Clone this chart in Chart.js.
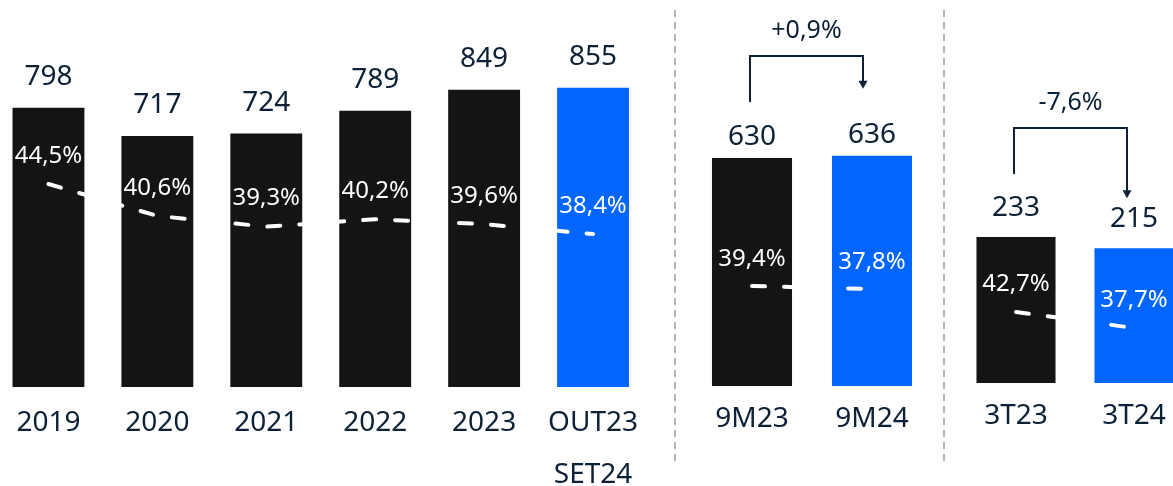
<!DOCTYPE html>
<html lang="pt">
<head>
<meta charset="utf-8">
<script src="https://cdn.jsdelivr.net/npm/chart.js@4/dist/chart.umd.min.js"></script>
<style>
  html, body { margin: 0; padding: 0; background: #fff; overflow: hidden; width: 1173px; height: 486px; }
  .bloco { position: absolute; top: 0; height: 486px; }
</style>
</head>
<body>
<div class="bloco" style="left:-6px;width:654px"><canvas id="graficoAnos"></canvas></div>
<div class="bloco" style="left:662px;width:270px"><canvas id="graficoNoveMeses"></canvas></div>
<div class="bloco" style="left:932px;width:261px"><canvas id="graficoTrimestre"></canvas></div>
<script>
// dados
const anosLabels = ['2019', '2020', '2021', '2022', '2023', ['OUT23', 'SET24']];
const anosValores = [798, 717, 724, 789, 849, 855];
const anosMargem = [44.5, 40.6, 39.3, 40.2, 39.6, 38.4];

const noveMesesLabels = ['9M23', '9M24'];
const noveMesesValores = [630, 636];
const noveMesesMargem = [39.4, 37.8];

const trimestreLabels = ['3T23', '3T24'];
const trimestreValores = [233, 215];
const trimestreMargem = [42.7, 37.7];

const variacoes = ['+0,9%', '-7,6%'];

const PRETO = '#141414';
const AZUL = '#0066ff';
const NAVY = '#0c2036';
const FONTE = "'Noto Sans', sans-serif";

// valores acima das barras e margens acima da linha tracejada
const rotulos = {
    id: 'rotulos',
    afterDatasetsDraw(chart, args, opts) {
        const ctx = chart.ctx;
        const barras = chart.getDatasetMeta(0).data;
        const pontos = chart.getDatasetMeta(1).data;
        ctx.save();
        ctx.textAlign = 'center';
        ctx.textBaseline = 'middle';
        ctx.font = '28px ' + FONTE;
        ctx.fillStyle = NAVY;
        barras.forEach((b, i) => {
            ctx.fillText(chart.data.datasets[0].data[i], b.x, b.y - opts.acimaBarra);
        });
        ctx.font = '24px ' + FONTE;
        ctx.fillStyle = '#fff';
        pontos.forEach((p, i) => {
            const v = chart.data.datasets[1].data[i];
            ctx.fillText(v.toFixed(1).replace('.', ',') + '%', p.x, p.y - opts.acimaLinha);
        });
        ctx.restore();
    }
};

// separador tracejado e seta de variação
const anotacoes = {
    id: 'anotacoes',
    afterDraw(chart, args, opts) {
        const ctx = chart.ctx;
        const area = chart.chartArea;
        ctx.save();
        if (opts.separador) {
            const x = area.left - opts.separador;
            ctx.strokeStyle = '#b4b4b4';
            ctx.lineWidth = 2;
            ctx.setLineDash([7, 5]);
            ctx.beginPath();
            ctx.moveTo(x, 10);
            ctx.lineTo(x, 466);
            ctx.stroke();
        }
        if (opts.seta) {
            const s = opts.seta;
            const b = chart.getDatasetMeta(0).data;
            const x0 = b[0].x - 2;
            const x1 = b[1].x - s.recuo;
            const y0 = b[0].y - s.inicio;
            const yt = y0 - s.altura;
            const y1 = b[1].y - s.ponta;
            ctx.setLineDash([]);
            ctx.strokeStyle = NAVY;
            ctx.fillStyle = NAVY;
            ctx.lineWidth = 2;
            ctx.beginPath();
            ctx.moveTo(x0, y0);
            ctx.lineTo(x0, yt);
            ctx.lineTo(x1, yt);
            ctx.lineTo(x1, y1 - 6);
            ctx.stroke();
            ctx.beginPath();
            ctx.moveTo(x1 - 4.5, y1 - 8);
            ctx.lineTo(x1 + 4.5, y1 - 8);
            ctx.lineTo(x1, y1);
            ctx.closePath();
            ctx.fill();
            ctx.font = '25px ' + FONTE;
            ctx.textAlign = 'center';
            ctx.textBaseline = 'middle';
            ctx.fillText(s.texto, (x0 + x1) / 2, yt - 25);
        }
        ctx.restore();
    }
};

function criarGrafico(id, labels, valores, margem, cores, ajuste) {
    new Chart(document.getElementById(id), {
        type: 'bar',
        data: {
            labels: labels,
            datasets: [{
                type: 'bar',
                data: valores,
                backgroundColor: cores,
                barPercentage: ajuste.barra,
                categoryPercentage: 1,
                yAxisID: 'y',
                order: 2
            }, {
                type: 'line',
                data: margem,
                borderColor: '#ffffff',
                borderWidth: 4,
                borderDash: [13, 19],
                borderCapStyle: 'round',
                pointRadius: 0,
                tension: 0,
                yAxisID: 'y2',
                order: 1
            }]
        },
        options: {
            responsive: true,
            maintainAspectRatio: false,
            animation: false,
            layout: { padding: { left: ajuste.esquerda, right: 0, top: 0, bottom: 0 } },
            plugins: {
                legend: { display: false },
                tooltip: { enabled: false },
                rotulos: { acimaBarra: ajuste.acimaBarra, acimaLinha: ajuste.acimaLinha },
                anotacoes: { separador: ajuste.separador, seta: ajuste.seta }
            },
            scales: {
                x: {
                    grid: { display: false, drawTicks: false },
                    border: { display: false },
                    ticks: {
                        color: NAVY,
                        font: { family: FONTE, size: 28, lineHeight: ajuste.linha },
                        padding: ajuste.pad,
                        maxRotation: 0,
                        autoSkip: false
                    },
                    afterFit: s => { s.height = 486 - ajuste.base; }
                },
                y: { display: false, min: 0, max: ajuste.maxBarra },
                y2: { display: false, min: ajuste.minLinha, max: ajuste.maxLinha }
            }
        },
        plugins: [rotulos, anotacoes]
    });
}

criarGrafico('graficoAnos', anosLabels, anosValores, anosMargem,
    [PRETO, PRETO, PRETO, PRETO, PRETO, AZUL], {
        barra: 0.66, esquerda: 0, base: 387, linha: '52px', pad: 10,
        maxBarra: 1105.7, minLinha: 19.74, maxLinha: 66.94,
        acimaBarra: 31, acimaLinha: 28
    });

criarGrafico('graficoNoveMeses', noveMesesLabels, noveMesesValores, noveMesesMargem,
    [PRETO, AZUL], {
        barra: 0.667, esquerda: 30, base: 386, linha: '34px', pad: 16,
        maxBarra: 1066.6, minLinha: -13.93, maxLinha: 191.93,
        acimaBarra: 21, acimaLinha: 27,
        separador: 17,
        seta: { texto: variacoes[0], recuo: 9, inicio: 56, altura: 46, ponta: 67 }
    });

criarGrafico('graficoTrimestre', trimestreLabels, trimestreValores, trimestreMargem,
    [PRETO, AZUL], {
        barra: 0.67, esquerda: 25, base: 383, linha: '34px', pad: 16,
        maxBarra: 611.2, minLinha: 20.51, maxLinha: 140.2,
        acimaBarra: 29, acimaLinha: 28,
        separador: 13,
        seta: { texto: variacoes[1], recuo: 7, inicio: 63, altura: 46, ponta: 50 }
    });
</script>
</body>
</html>
